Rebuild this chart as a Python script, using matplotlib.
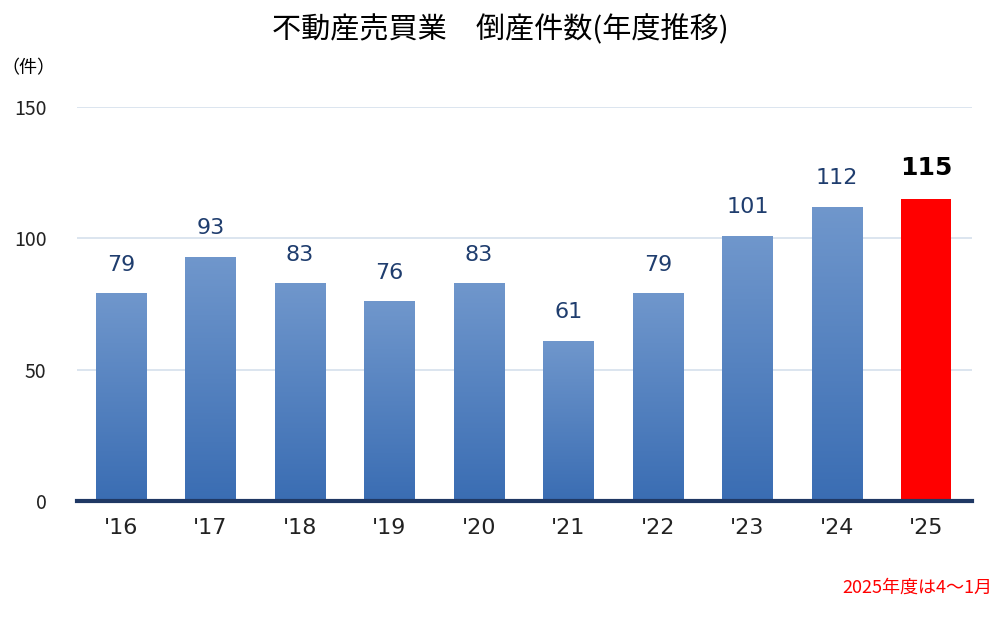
import matplotlib
matplotlib.use("Agg")
import matplotlib.pyplot as plt
import numpy as np
from matplotlib.colors import LinearSegmentedColormap

plt.rcParams['font.family'] = ['Noto Sans CJK JP', 'DejaVu Sans']

years = ["'16", "'17", "'18", "'19", "'20", "'21", "'22", "'23", "'24", "'25"]
values = [79, 93, 83, 76, 83, 61, 79, 101, 112, 115]

fig = plt.figure(figsize=(10, 6.24), dpi=100)
ax = fig.add_axes([0.077, 0.197, 0.895, 0.6317])
x = np.arange(len(years))
w = 0.56
cmap = LinearSegmentedColormap.from_list('g', ['#3a6db3', '#7097cc'])
grad = np.linspace(0, 1, 256).reshape(-1, 1)
for i, v in enumerate(values):
    if i == len(values) - 1:
        ax.bar(i, v, w, color='#ff0000', zorder=3)
        ax.text(i, v + 7, str(v), ha='center', va='bottom', fontsize=18,
                fontweight='bold', color='black', family='DejaVu Sans')
    else:
        b = ax.bar(i, v, w, color='none', zorder=3)[0]
        im = ax.imshow(grad, cmap=cmap, aspect='auto', origin='lower',
                       extent=[i - w/2, i + w/2, 0, v], zorder=3)
        im.set_clip_path(b)
        ax.text(i, v + 7, str(v), ha='center', va='bottom', fontsize=16,
                color='#1f3d6e', family='DejaVu Sans')

ax.set_xlim(-0.49, 9.51)
ax.set_ylim(0, 150)
ax.set_yticks([0, 50, 100, 150])
ax.grid(axis='y', color='#d6e0ec', linewidth=1.2, zorder=0)
for s in ['top', 'right', 'left']:
    ax.spines[s].set_visible(False)
ax.spines['bottom'].set_color('#1f3864')
ax.spines['bottom'].set_linewidth(3)
ax.spines['bottom'].set_zorder(4)
ax.set_xticks(x)
ax.set_xticklabels(years, fontsize=16, family='DejaVu Sans')
ax.tick_params(axis='both', length=0, labelsize=14, colors='#222222')
ax.tick_params(axis='x', pad=12, labelsize=16)
ax.tick_params(axis='y', pad=22)

fig.text(0.5, 0.952, '不動産売買業\u3000倒産件数(年度推移)', ha='center', va='center', fontsize=21)
fig.text(0.028, 0.89, '（件）', ha='center', va='center', fontsize=13)
fig.text(0.992, 0.058, '2025年度は4～1月', ha='right', va='center', fontsize=13, color='#ff0000')

fig.savefig('out.png', dpi=100)
